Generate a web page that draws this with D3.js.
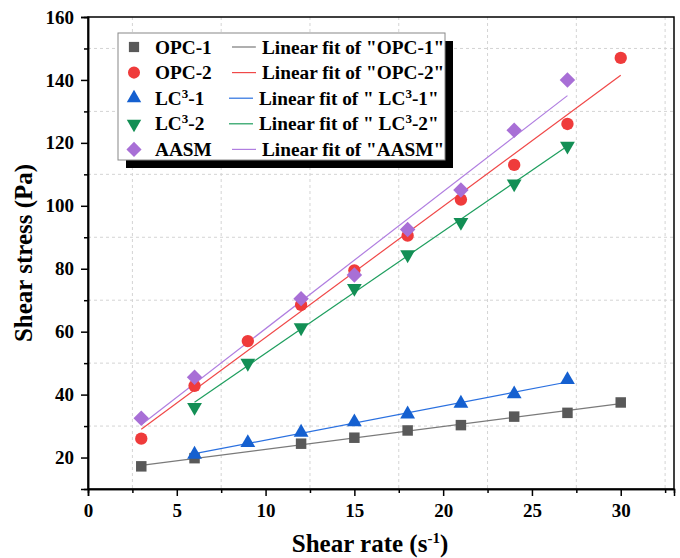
<!DOCTYPE html>
<html><head><meta charset="utf-8">
<script src="https://cdn.jsdelivr.net/npm/d3@7"></script>
<style>body{margin:0;background:#fff;} text{font-family:"Liberation Serif","Times New Roman",serif;font-weight:bold;}</style>
</head><body>
<svg id="c" width="680" height="558"></svg>
<script>
const xTicks = [0,5,10,15,20,25,30];
const yTicks = [20,40,60,80,100,120,140,160];
const opc1X = [3,6,12,15,18,21,24,27,30];
const opc1Y = [17.2,19.8,24.4,26.3,28.6,30.3,33.0,34.2,37.5];
const opc2X = [3,6,9,12,15,18,21,24,27,30];
const opc2Y = [26.0,42.8,57.0,68.5,79.5,90.5,102.0,113.0,126.0,147.0];
const lc1X = [6,9,12,15,18,21,24,27];
const lc1Y = [21.0,24.7,28.0,31.3,33.8,37.2,40.2,44.7];
const lc2X = [6,9,12,15,18,21,24,27];
const lc2Y = [36.0,50.0,61.3,73.8,84.5,94.8,107.0,119.0];
const aasmX = [3,6,12,15,18,21,24,27];
const aasmY = [32.5,45.5,70.5,78.0,92.5,105.0,124.0,140.0];
const seriesNames = ["OPC-1","OPC-2","LC3-1","LC3-2","AASM"];

const series = [
  {name:"OPC-1", x:opc1X, y:opc1Y, color:"#595959", line:"#7a7a7a", sym:d3.symbolSquare, size:110, rot:0, sup:null, fit:'Linear fit of "OPC-1"'},
  {name:"OPC-2", x:opc2X, y:opc2Y, color:"#ef3b3b", line:"#f04848", sym:d3.symbolCircle, size:120, rot:0, sup:null, fit:'Linear fit of "OPC-2"'},
  {name:"LC3-1", x:lc1X, y:lc1Y, color:"#1560d0", line:"#2a70e0", sym:d3.symbolTriangle, size:95, rot:0, sup:"1", fit:null},
  {name:"LC3-2", x:lc2X, y:lc2Y, color:"#138f55", line:"#1e9e5e", sym:d3.symbolTriangle, size:95, rot:180, sup:"2", fit:null},
  {name:"AASM", x:aasmX, y:aasmY, color:"#a86fd6", line:"#b07ee0", sym:d3.symbolSquare, size:120, rot:45, sup:null, fit:'Linear fit of "AASM"'}
];

const svg = d3.select("#c");
const L=88, R=674, T=17, B=489;
const x = d3.scaleLinear().domain([0,33]).range([L,R]);
const y = d3.scaleLinear().domain([10,160]).range([B,T]);

// grid at minor positions
const gx = d3.range(2.5,33,5), gy = d3.range(30,160,20);
svg.append("g").selectAll("line").data(gx).join("line")
  .attr("x1",d=>x(d)).attr("x2",d=>x(d)).attr("y1",T).attr("y2",B)
  .attr("stroke","#d4d4d4").attr("stroke-dasharray","3,3").attr("stroke-width",1);
svg.append("g").selectAll("line").data(gy).join("line")
  .attr("y1",d=>y(d)).attr("y2",d=>y(d)).attr("x1",L).attr("x2",R)
  .attr("stroke","#d4d4d4").attr("stroke-dasharray","3,3").attr("stroke-width",1);

// frame
svg.append("rect").attr("x",L).attr("y",T).attr("width",R-L).attr("height",B-T)
  .attr("fill","none").attr("stroke","#000").attr("stroke-width",1.5);

// axes
const xAxis = d3.axisBottom(x).tickValues(xTicks).tickSize(7).tickPadding(8).tickFormat(d3.format("d"));
svg.append("g").attr("transform",`translate(0,${B})`).call(xAxis);
const xMinor = d3.axisBottom(x).tickValues(gx).tickSize(4).tickFormat("");
svg.append("g").attr("transform",`translate(0,${B})`).call(xMinor);
const yAxis = d3.axisLeft(y).tickValues(yTicks).tickSize(7).tickPadding(7);
svg.append("g").attr("transform",`translate(${L},0)`).call(yAxis);
const yMinor = d3.axisLeft(y).tickValues(gy).tickSize(4).tickFormat("");
svg.append("g").attr("transform",`translate(${L},0)`).call(yMinor);
svg.selectAll(".domain").attr("stroke","#000").attr("stroke-width",1.5);
svg.selectAll(".tick line").attr("stroke","#000").attr("stroke-width",1.5);
svg.selectAll(".tick text").attr("font-family","Liberation Serif").attr("font-weight","bold").attr("font-size",19).attr("fill","#000");

// fit lines
function fit(xs, ys){
  const mx=d3.mean(xs), my=d3.mean(ys);
  let sxy=0,sxx=0; xs.forEach((v,i)=>{sxy+=(v-mx)*(ys[i]-my); sxx+=(v-mx)*(v-mx);});
  const b=sxy/sxx, a=my-b*mx; return [a,b];
}
series.forEach(s=>{
  const [a,b]=fit(s.x,s.y);
  const x0=d3.min(s.x), x1=d3.max(s.x);
  svg.append("line").attr("x1",x(x0)).attr("y1",y(a+b*x0)).attr("x2",x(x1)).attr("y2",y(a+b*x1))
    .attr("stroke",s.line).attr("stroke-width",1.2);
});
// points
series.forEach(s=>{
  const sym=d3.symbol().type(s.sym).size(s.size);
  svg.append("g").selectAll("path").data(s.x.map((v,i)=>[v,s.y[i]])).join("path")
    .attr("d",sym).attr("fill",s.color)
    .attr("transform",d=>`translate(${x(d[0])},${y(d[1])}) rotate(${s.rot})`);
});

// axis titles
svg.append("text").attr("x",370).attr("y",552).attr("text-anchor","middle").attr("font-size",25)
  .html('Shear rate (s<tspan dy="-9" font-size="15">-1</tspan><tspan dy="9">)</tspan>');
svg.append("text").attr("transform","translate(32,253) rotate(-90)").attr("text-anchor","middle").attr("font-size",25)
  .text("Shear stress (Pa)");

// legend
const lg = svg.append("g");
lg.append("rect").attr("x",126).attr("y",41).attr("width",327).attr("height",127).attr("fill","#000");
lg.append("rect").attr("x",118).attr("y",33).attr("width",327).attr("height",127).attr("fill","#fff").attr("stroke","#888").attr("stroke-width",1);
series.forEach((s,i)=>{
  const cy = 47 + i*25.6;
  const sym=d3.symbol().type(s.sym).size(s.size*0.95);
  lg.append("path").attr("d",sym).attr("fill",s.color).attr("transform",`translate(134,${cy}) rotate(${s.rot})`);
  const t = lg.append("text").attr("x",155).attr("y",cy+6.5).attr("font-size",19.3);
  if(s.sup){
    t.html(`LC<tspan dy="-7" font-size="13">3</tspan><tspan dy="7">-${s.sup}</tspan>`);
  } else t.text(s.name);
  const off = s.sup ? -3 : 0;
  lg.append("line").attr("x1",232+off).attr("x2",256+off).attr("y1",cy).attr("y2",cy).attr("stroke",s.line).attr("stroke-width",1.2);
  const ft = lg.append("text").attr("x",262+off).attr("y",cy+6.5).attr("font-size",19.3);
  if(s.sup){
    ft.html(`Linear fit of " LC<tspan dy="-7" font-size="13">3</tspan><tspan dy="7">-${s.sup}"</tspan>`);
  } else ft.text(s.fit);
});
</script>
</body></html>
